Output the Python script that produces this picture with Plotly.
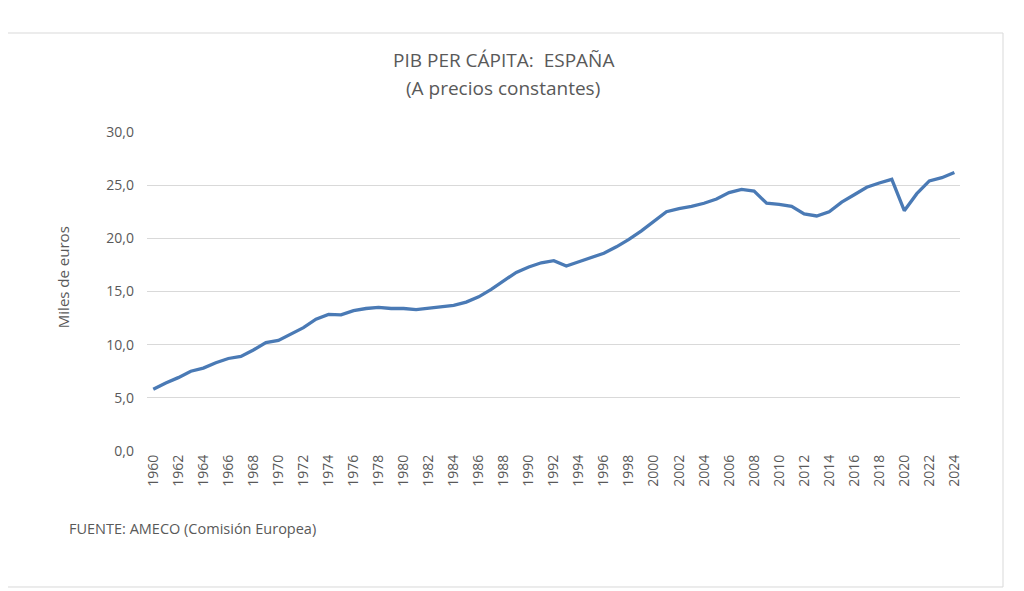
import plotly.graph_objects as go

years = list(range(1960, 2025))
pib = [5.8, 6.4, 6.9, 7.5, 7.8, 8.3, 8.7, 8.9, 9.5, 10.2,
       10.4, 11.0, 11.6, 12.4, 12.85, 12.8, 13.2, 13.4, 13.5, 13.4,
       13.4, 13.3, 13.45, 13.6, 13.7, 14.0, 14.5, 15.2, 16.0, 16.8,
       17.3, 17.7, 17.9, 17.4, 17.8, 18.2, 18.6, 19.2, 19.9, 20.7,
       21.6, 22.5, 22.8, 23.0, 23.3, 23.7, 24.3, 24.6, 24.45, 23.3,
       23.2, 23.0, 22.3, 22.1, 22.5, 23.4, 24.1, 24.8, 25.2, 25.55,
       22.6, 24.2, 25.4, 25.7, 26.2]
ticks_x = list(range(1960, 2025, 2))
ticks_y = [0, 5, 10, 15, 20, 25, 30]

gris = "#595959"
fuente = "Open Sans"

fig = go.Figure()
fig.add_trace(go.Scatter(x=years, y=pib, mode="lines",
                         line=dict(color="#4a7ab5", width=3.3),
                         hoverinfo="x+y", showlegend=False))

# the page puts the figure 8px in from the top-left corner
fig.update_layout(
    width=1016, height=583,
    margin=dict(l=139, r=64, t=124, b=140),
    paper_bgcolor="white", plot_bgcolor="white",
    separators=",.",
    font=dict(family=fuente, color=gris, size=14),
    xaxis=dict(range=[1959.5, 2024.45], tickvals=ticks_x, tickangle=-90,
               showgrid=False, zeroline=False, showline=False, ticks="",
               tickfont=dict(size=14, color=gris)),
    yaxis=dict(range=[0, 30], tickvals=ticks_y, tickformat=".1f",
               showgrid=True, gridcolor="#d9d9d9", gridwidth=1,
               zeroline=False, showline=False, ticks="",
               ticklabelstandoff=12,
               tickfont=dict(size=14, color=gris)),
    shapes=[dict(type="rect", xref="paper", yref="paper",
                 x0=-0.1784, x1=1.0529, y0=-0.4263, y1=1.3103,
                 line=dict(color="#d9d9d9", width=1), layer="below")],
    annotations=[
        dict(text="PIB PER CÁPITA:  ESPAÑA", xref="paper", yref="paper",
             x=0.4379, y=1.2257, xanchor="center", yanchor="middle",
             showarrow=False, font=dict(size=19, color=gris)),
        dict(text="(A precios constantes)", xref="paper", yref="paper",
             x=0.4379, y=1.138, xanchor="center", yanchor="middle",
             showarrow=False, font=dict(size=19, color=gris)),
        dict(text="Miles de euros", xref="paper", yref="paper",
             x=-0.1033, y=0.545, xanchor="center", yanchor="middle",
             textangle=-90, showarrow=False,
             font=dict(size=15, color=gris)),
        dict(text="FUENTE: AMECO (Comisión Europea)", xref="paper", yref="paper",
             x=-0.0984, y=-0.2414, xanchor="left", yanchor="middle",
             showarrow=False, font=dict(size=14.5, color=gris)),
    ],
)

fig.write_html("out.html")
